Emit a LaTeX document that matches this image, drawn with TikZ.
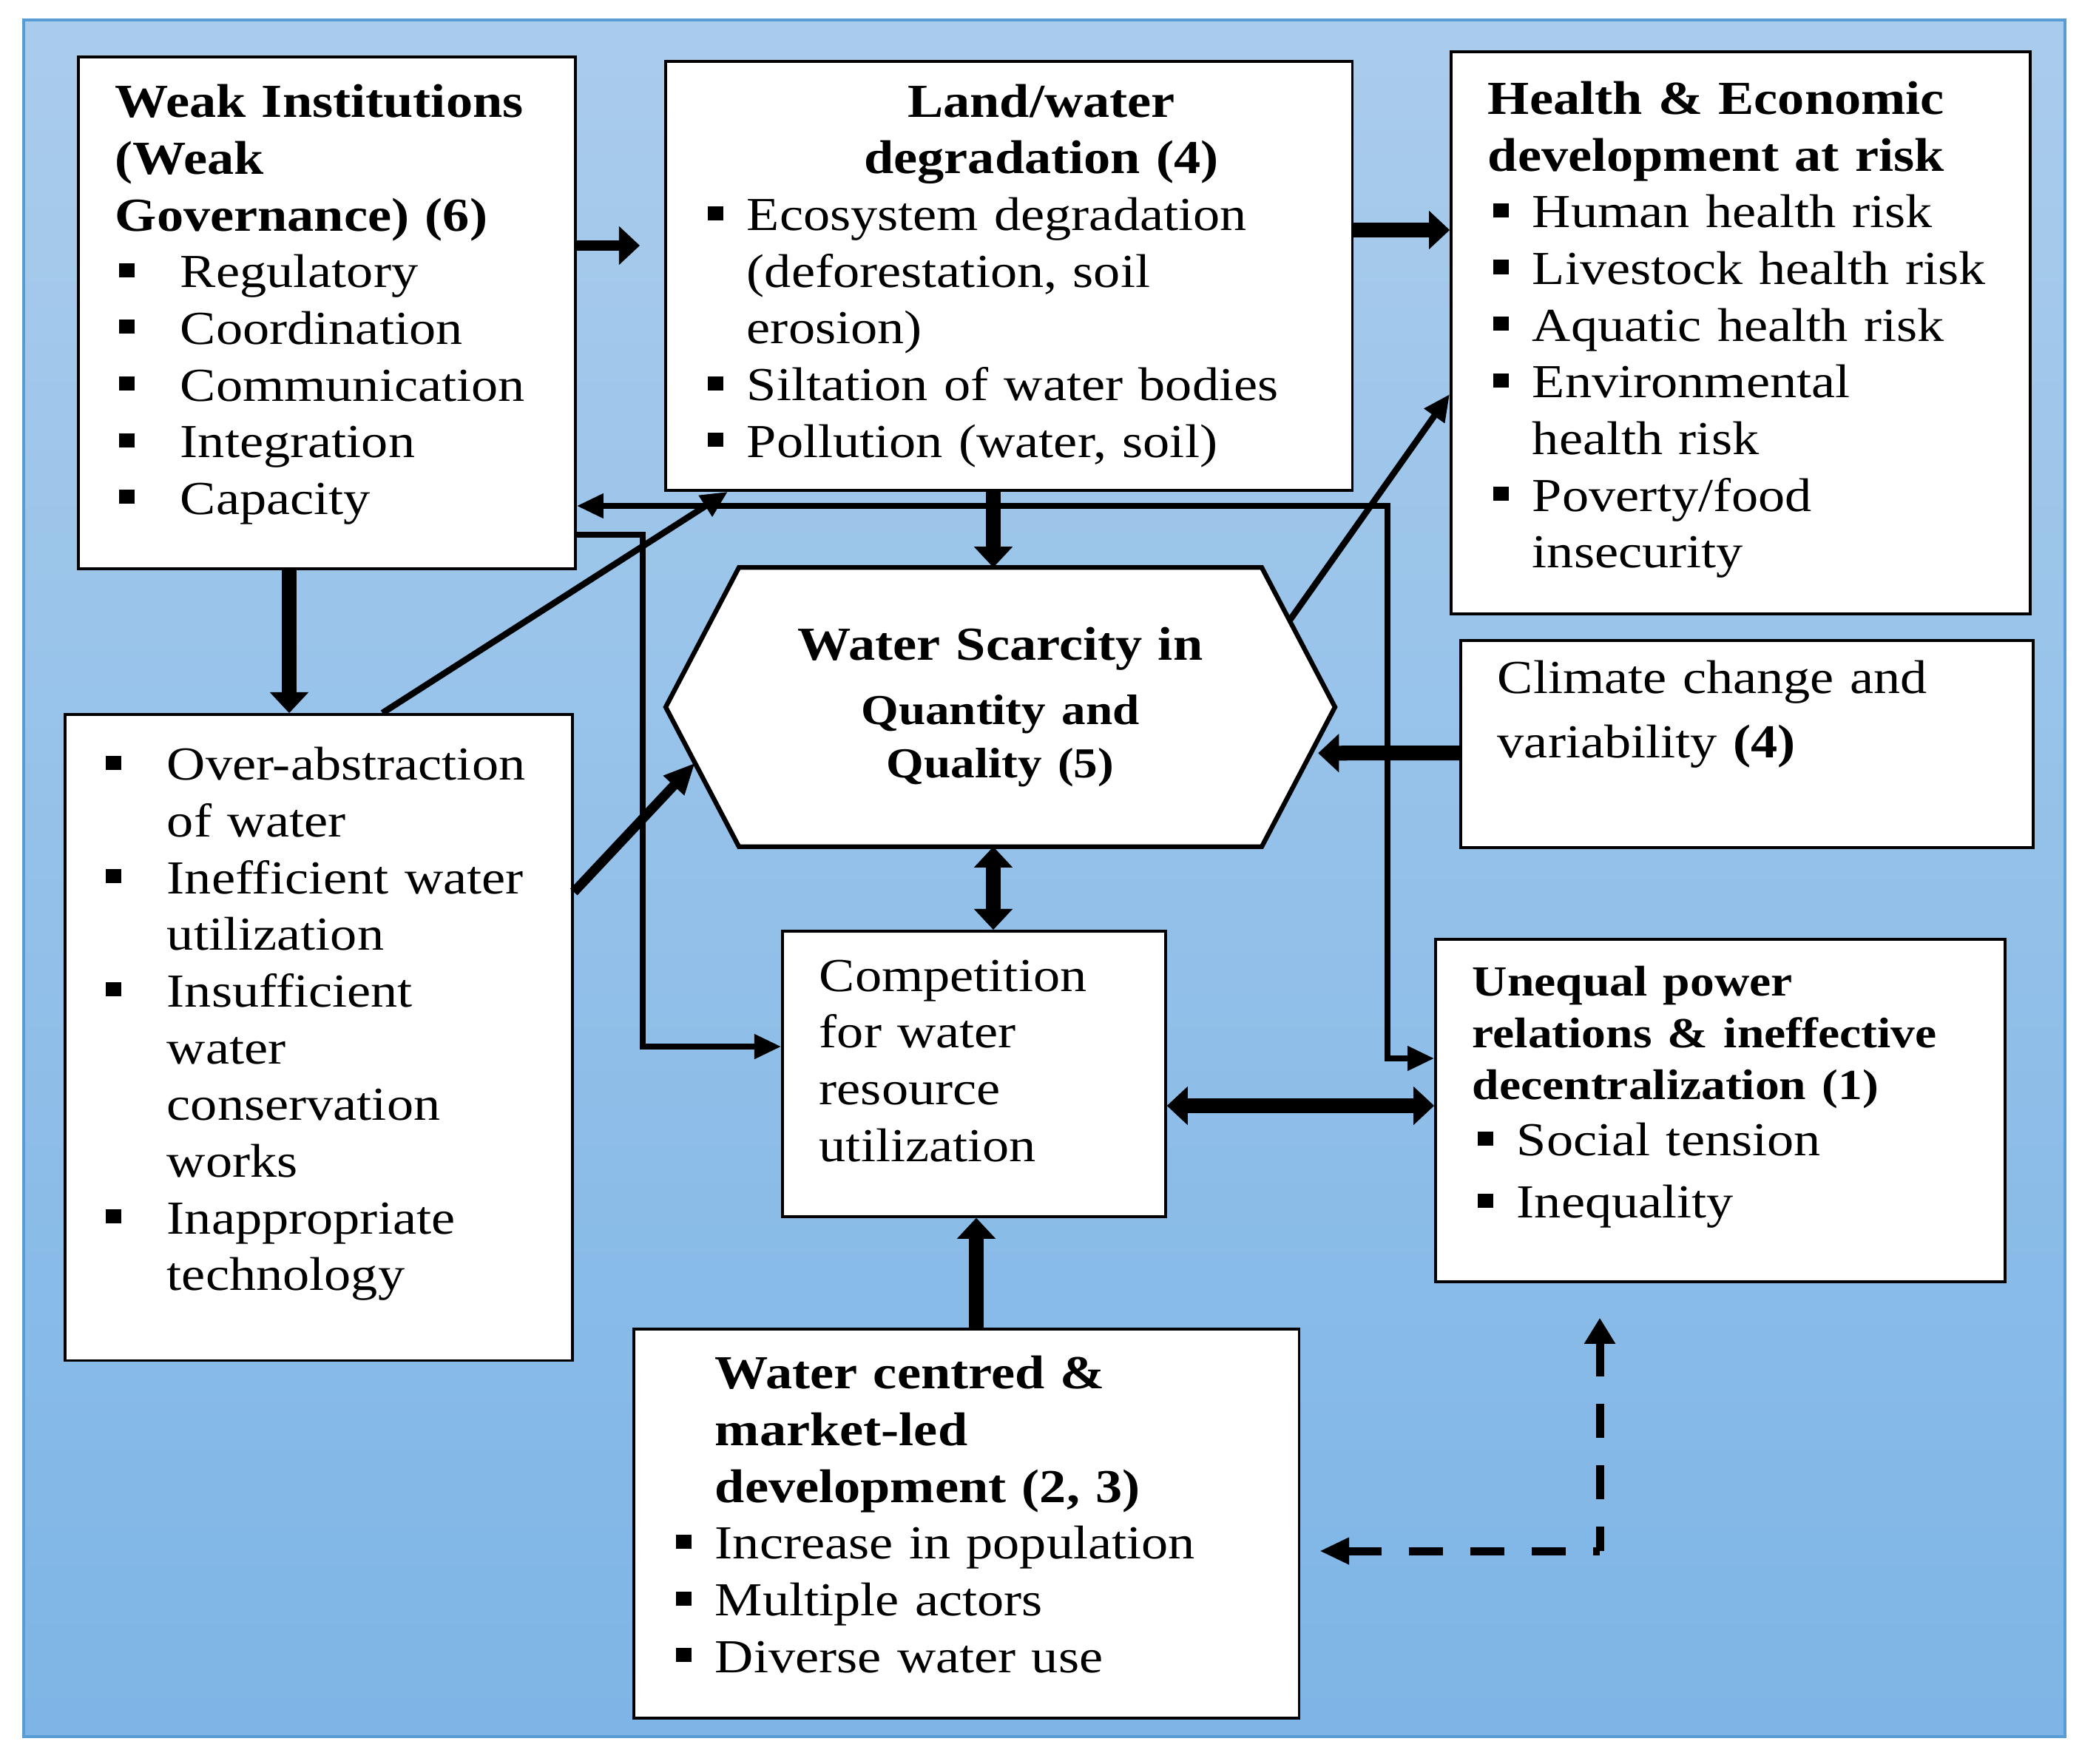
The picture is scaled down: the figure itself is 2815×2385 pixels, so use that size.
\documentclass[tikz,border=0pt]{standalone}
\usepackage{fontspec}
\setmainfont{Liberation Serif}[FakeStretch=1.13]
\usepackage{tikz}
\usetikzlibrary{arrows.meta,positioning,calc,backgrounds}

\definecolor{skytop}{RGB}{170,204,236}
\definecolor{skybot}{RGB}{125,181,230}
\definecolor{skyrim}{RGB}{88,156,214}

\newcommand{\sq}{\rule[0.14cm]{0.21cm}{0.19cm}}
\newcommand{\bi}{\makebox[0.6cm][l]{\hspace{0.07cm}\sq}}
\newcommand{\bj}{\makebox[0.88cm][l]{\hspace{0.05cm}\sq}}
\newcommand{\dn}[1]{\rule[-#1]{0pt}{#1}}

\begin{document}
\begin{tikzpicture}[
  x=0.01cm, y=-0.01cm,
  bx/.style={draw, line width=1pt, fill=white, anchor=north west, inner xsep=0.5cm, inner ysep=0pt,
    align=left, font=\fontsize{18.2pt}{21.8pt}\selectfont},
  fat/.style={line width=0.2cm, -{Triangle[length=0.28cm, width=0.52cm, line width=0.5pt]}},
  fattwo/.style={line width=0.2cm, {Triangle[length=0.28cm, width=0.52cm, line width=0.5pt]}-{Triangle[length=0.28cm, width=0.52cm, line width=0.5pt]}},
  slim/.style={line width=0.075cm},
  medln/.style={line width=0.085cm},
  dsh/.style={line width=0.11cm, dash pattern=on 0.46cm off 0.37cm},
  >={Triangle[length=0.36cm, width=0.32cm]},
]
\useasboundingbox (0,0) rectangle (2815,2385);
\begin{scope}[on background layer]
  \shade[top color=skytop, bottom color=skybot] (32,27) rectangle (2792,2348);
  \draw[skyrim, line width=1pt] (32,27) rectangle (2792,2348);
\end{scope}

\node[bx, minimum width=6.72cm, minimum height=6.92cm, text width=5.72cm] (wi) at (104,75)
  {\textbf{Weak Institutions}\\
   \textbf{(Weak}\\
   \textbf{Governance) (6)}\\
   \bj Regulatory\\
   \bj Coordination\\
   \bj Communication\\
   \bj Integration\\
   \bj Capacity\dn{0.36cm}};
\node[bx, minimum width=9.28cm, minimum height=5.80cm, text width=8.28cm] (lw) at (898,81)
  {\makebox[\linewidth]{\hspace{0.88cm}\textbf{Land/water}}\\
   \makebox[\linewidth]{\hspace{0.88cm}\textbf{degradation (4)}}\\
   \bi Ecosystem degradation\\
   \hspace*{0.6cm}(deforestation, soil\\
   \hspace*{0.6cm}erosion)\\
   \bi Siltation of water bodies\\
   \bi Pollution (water, soil)};
\node[bx, minimum width=7.83cm, minimum height=7.60cm, text width=6.83cm] (he) at (1960,68)
  {\textbf{Health \& Economic}\\
   \textbf{development at risk}\\
   \bi Human health risk\\
   \bi Livestock health risk\\
   \bi Aquatic health risk\\
   \bi Environmental\\
   \hspace*{0.6cm}health risk\\
   \bi Poverty/food\\
   \hspace*{0.6cm}insecurity\dn{0.22cm}};
\node[bx, minimum width=7.74cm, minimum height=2.80cm, text width=6.74cm,
  font=\fontsize{18.2pt}{24.5pt}\selectfont] (cc) at (1973,864)
  {Climate change and\\
   variability \textbf{(4)}\dn{0.94cm}};
\node[bx, minimum width=6.86cm, minimum height=8.73cm, text width=5.86cm] (oa) at (86,964)
  {\bj Over-abstraction\\
   \hspace*{0.88cm}of water\\
   \bj Inefficient water\\
   \hspace*{0.88cm}utilization\\
   \bj Insufficient\\
   \hspace*{0.88cm}water\\
   \hspace*{0.88cm}conservation\\
   \hspace*{0.88cm}works\\
   \bj Inappropriate\\
   \hspace*{0.88cm}technology\dn{0.5cm}};
\node[bx, minimum width=5.18cm, minimum height=3.86cm, text width=4.18cm] (cw) at (1056,1257)
  {Competition\\
   for water\\
   resource\\
   utilization\dn{0.36cm}};
\node[bx, minimum width=7.70cm, minimum height=4.63cm, text width=6.70cm] (up) at (1939,1268)
  {{\fontsize{16.5pt}{19.9pt}\selectfont\bfseries Unequal power\\
    relations \& ineffective\\
    decentralization (1)\par}
   \noindent\bi Social tension\\[2pt]
   \bi Inequality\dn{0.5cm}};
\node[bx, minimum width=8.99cm, minimum height=5.26cm, text width=7.99cm] (wc) at (855,1795)
  {\hspace*{0.6cm}\textbf{Water centred \&}\\
   \hspace*{0.6cm}\textbf{market-led}\\
   \hspace*{0.6cm}\textbf{development (2, 3)}\\
   \bi Increase in population\\
   \bi Multiple actors\\
   \bi Diverse water use\dn{0.25cm}};

\node[minimum width=9.03cm, minimum height=3.76cm, inner sep=0pt, text width=7cm, align=center,
  font=\fontsize{18.2pt}{21.8pt}\selectfont] (ws) at (1352.5,956)
  {{\bfseries Water Scarcity in\par}\vspace{4pt}
   {\fontsize{16.4pt}{20.5pt}\selectfont\bfseries Quantity and\\
    Quality (5)\par}};
\coordinate (hnw) at ([xshift=0.99cm]ws.north west);
\coordinate (hne) at ([xshift=-0.99cm]ws.north east);
\coordinate (hse) at ([xshift=-0.99cm]ws.south east);
\coordinate (hsw) at ([xshift=0.99cm]ws.south west);
\begin{scope}[on background layer]
  \draw[line width=1.8pt, fill=white] (hnw) -- (hne) -- (ws.east) -- (hse) -- (hsw) -- (ws.west) -- cycle;
\end{scope}

\coordinate (r1) at (0,332);
\coordinate (r2) at (0,311);
\coordinate (c3) at (1343,0);
\coordinate (c4) at (391,0);
\coordinate (c5) at (517,0);
\coordinate (c6) at (984,0);
\coordinate (r6) at (0,1206);
\coordinate (r7) at (0,533);
\coordinate (r8) at (0,1018);
\coordinate (c10) at (1320,0);
\coordinate (r11) at (0,1495);
\coordinate (k1) at (1876,684);
\coordinate (k2) at (0,1431);
\coordinate (k3) at (869,723);
\coordinate (k4) at (0,1415);
\coordinate (k5) at (2163,2097);

\draw[fat, line width=0.14cm, shorten >=0.33cm] (wi.east |- r1) -- (lw.west |- r1);
\draw[fat] (lw.east |- r2) -- (he.west |- r2);
\draw[fat] (lw.south -| c3) -- (ws.north -| c3);
\draw[fat] (wi.south -| c4) -- (oa.north -| c4);
\draw[medln, ->] (oa.north -| c5) -- (lw.south -| c6);
\draw[line width=0.13cm, -{Triangle[length=0.42cm, width=0.36cm]}] (oa.east |- r6) -- ($(ws.west)!0.4!(hsw)$);
\draw[medln, ->] ($(hne)!0.38!(ws.east)$) -- (he.west |- r7);
\draw[fat, shorten >=0.1cm] (cc.west |- r8) -- ($(ws.east)!0.33!(hse)$);
\draw[fattwo] (ws.south -| c3) -- (cw.north -| c3);
\draw[fat] (wc.north -| c10) -- (cw.south -| c10);
\draw[fattwo] (cw.east |- r11) -- (up.west |- r11);
\draw[slim, <->] (wi.east |- k1) -- (k1) |- (up.west |- k2);
\draw[slim, ->] (wi.east |- k3) -- (k3) |- (cw.west |- k4);
\draw[dsh, {Triangle[length=0.4cm, width=0.34cm]}-, shorten <=0.26cm] (wc.east |- k5) -- (k5);
\draw[dsh, {Triangle[length=0.35cm, width=0.4cm]}-, shorten <=0.47cm] (up.south -| k5) -- (k5);
\end{tikzpicture}
\end{document}
